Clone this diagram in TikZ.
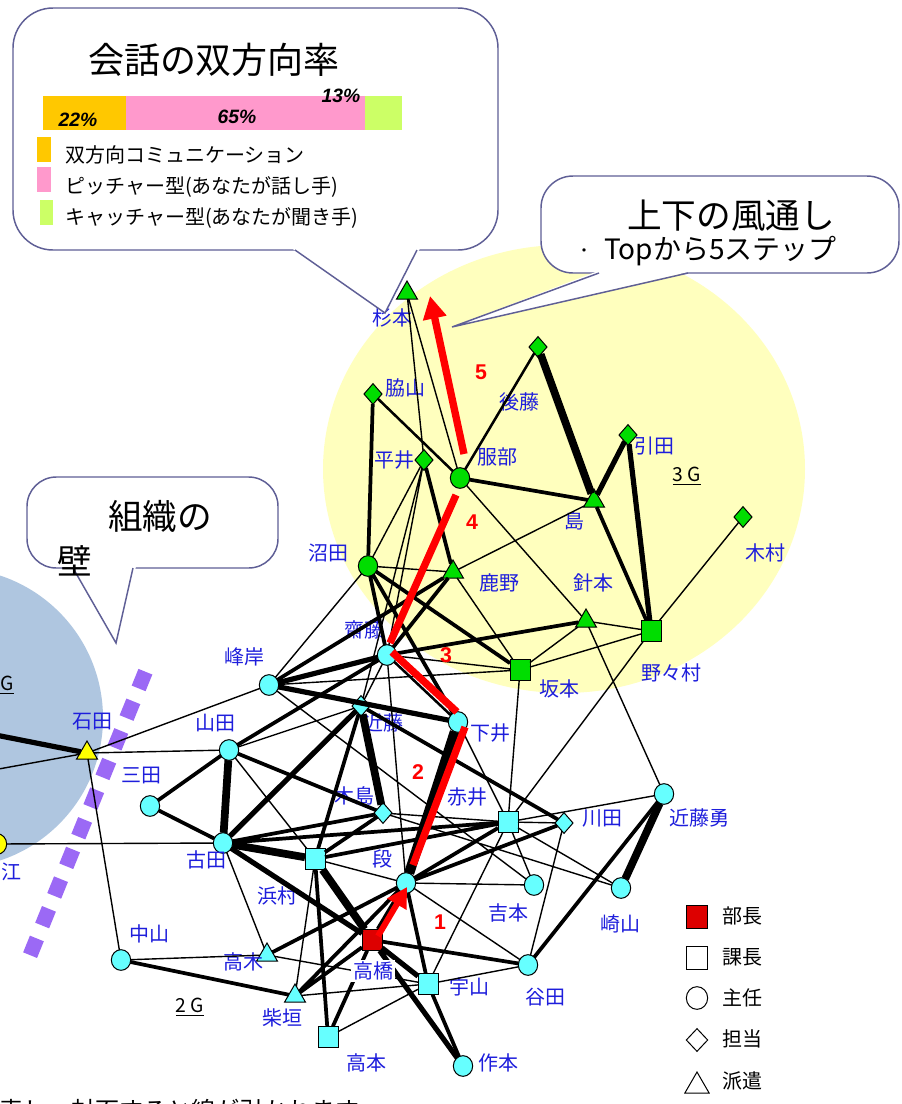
\documentclass[tikz,border=0pt]{standalone}
\usepackage{fontspec}
\setmainfont{Noto Sans CJK JP}
\newfontfamily\lib{Liberation Sans}
\usetikzlibrary{shapes.geometric,arrows.meta}
\definecolor{cyn}{RGB}{102,255,255}
\definecolor{grn}{RGB}{0,221,0}
\definecolor{ylw}{RGB}{255,255,0}
\definecolor{redn}{RGB}{221,0,0}
\definecolor{lbl}{RGB}{30,30,220}
\definecolor{ell}{RGB}{255,255,190}
\definecolor{bluec}{RGB}{175,198,224}
\definecolor{cline}{RGB}{95,95,150}
\definecolor{purp}{RGB}{155,105,245}
\definecolor{orng}{RGB}{255,200,0}
\definecolor{pnk}{RGB}{255,153,204}
\definecolor{lgrn}{RGB}{204,255,102}
\tikzset{
 nd/.style={draw=black,line width=0.75pt,inner sep=0pt,outer sep=0pt},
 cir/.style={nd,ellipse,minimum width=14.5pt,minimum height=15.5pt},
 sqr/.style={nd,rectangle,minimum width=15pt,minimum height=16pt},
 dia/.style={nd,diamond,minimum width=13.5pt,minimum height=15.5pt},
 tri/.style={nd,regular polygon,regular polygon sides=3,minimum size=18pt},
 lb/.style={text=lbl,font=\fontsize{15}{16}\selectfont,inner sep=0pt},
 e1/.style={line width=1.05pt},
 e2/.style={line width=1.9pt},
 e3/.style={line width=2.8pt},
 e4/.style={line width=3.9pt},
 e5/.style={line width=5.8pt},
 e6/.style={line width=7.6pt},
 rd/.style={red,line width=5.5pt},
 num/.style={text=red,font=\lib\bfseries\fontsize{16}{17}\selectfont,inner sep=0pt},
 cbox/.style={draw=cline,line width=1.1pt,fill=white},
 cedge/.style={draw=cline,line width=1.1pt},
 pct/.style={font=\lib\bfseries\itshape\fontsize{14.5}{15}\selectfont,inner sep=0pt},
 legt/.style={anchor=west,font=\fontsize{15}{16}\selectfont,inner sep=0pt},
 glab/.style={font=\fontsize{14.5}{15}\selectfont,inner sep=0pt},
}
\begin{document}
\begin{tikzpicture}[x=0.75pt,y=-0.75pt]
\clip (0,0) rectangle (901,1104);
\fill[white] (0,0) rectangle (901,1104);
% backgrounds
\fill[bluec] (-47,718) ellipse [x radius=150, y radius=150];
\fill[ell] (564,469) ellipse [x radius=241, y radius=224];
\draw[purp,line width=11.25pt,dash pattern=on 13.5pt off 10.5pt] (145.4,671.7) -- (30,955.4);

% nodes
\node[tri,fill=grn] (sugi) at (407,293) {};
\node[dia,fill=grn] (waki) at (373,394) {};
\node[dia,fill=grn] (goto) at (538,347) {};
\node[dia,fill=grn] (hirai) at (424,460) {};
\node[cir,fill=grn] (hatt) at (460,478) {};
\node[dia,fill=grn] (hiki) at (628,435) {};
\node[tri,fill=grn] (shima) at (594,501) {};
\node[dia,fill=grn] (kimu) at (743,517) {};
\node[cir,fill=grn] (numa) at (368,566) {};
\node[tri,fill=grn] (kano) at (453,572) {};
\node[tri,fill=grn] (hari) at (586,621) {};
\node[sqr,fill=grn] (nono) at (651,631) {};
\node[sqr,fill=grn] (saka) at (520,670) {};
\node[cir,fill=cyn] (sai) at (387,655) {};
\node[cir,fill=cyn] (mine) at (269,685) {};
\node[dia,fill=cyn] (kon) at (361,706) {};
\node[cir,fill=cyn] (shim) at (458,722) {};
\node[cir,fill=cyn] (yama) at (229,750) {};
\node[cir,fill=cyn] (mita) at (150,806) {};
\node[dia,fill=cyn] (kij) at (383,813) {};
\node[sqr,fill=cyn] (aka) at (508,822) {};
\node[dia,fill=cyn] (kawa) at (564,823) {};
\node[cir,fill=cyn] (isa) at (664,794) {};
\node[cir,fill=cyn] (furu) at (223,843) {};
\node[sqr,fill=cyn] (hama) at (315,859) {};
\node[cir,fill=cyn] (dan) at (406,883) {};
\node[cir,fill=cyn] (yosh) at (534,885) {};
\node[cir,fill=cyn] (saki) at (621,888) {};
\node[cir,fill=cyn] (naka) at (121,960) {};
\node[tri,fill=cyn] (takagi) at (267,955) {};
\node[sqr,fill=redn] (takah) at (372,940) {};
\node[cir,fill=cyn] (tani) at (528,965) {};
\node[tri,fill=cyn] (shib) at (295,996) {};
\node[sqr,fill=cyn] (uya) at (428,984) {};
\node[sqr,fill=cyn] (takam) at (328,1037) {};
\node[cir,fill=cyn] (saku) at (463,1066) {};
\node[tri,fill=ylw] (ishi) at (87,753) {};
\node[cir,fill=ylw] (ye) at (-3,844) {};
\coordinate (offa) at (-40,728);
\coordinate (offb) at (-40,776);

% labels
\node[lb] (l-sugi) at (392,318) {杉本};
\node[lb] (l-waki) at (405,388) {脇山};
\node[lb] (l-goto) at (519,402) {後藤};
\node[lb] (l-hirai) at (394,460) {平井};
\node[lb] (l-hatt) at (497,457) {服部};
\node[lb] (l-hiki) at (654,446) {引田};
\node[lb] (l-shima) at (574,521) {島};
\node[lb] (l-kimu) at (765,553) {木村};
\node[lb] (l-numa) at (328,553) {沼田};
\node[lb] (l-kano) at (499,583) {鹿野};
\node[lb] (l-hari) at (593,583) {針本};
\node[lb] (l-nono) at (671,673) {野々村};
\node[lb] (l-saka) at (559,689) {坂本};
\node[lb] (l-sai) at (364,630) {齋藤};
\node[lb] (l-mine) at (244,657) {峰岸};
\node[lb] (l-kon) at (383,723) {近藤};
\node[lb] (l-shim) at (490,733) {下井};
\node[lb] (l-yama) at (215,723) {山田};
\node[lb] (l-mita) at (141,775) {三田};
\node[lb] (l-kij) at (354,796) {木島};
\node[lb] (l-aka) at (467,797) {赤井};
\node[lb] (l-kawa) at (602,818) {川田};
\node[lb] (l-isa) at (699,818) {近藤勇};
\node[lb] (l-furu) at (206,860) {古田};
\node[lb] (l-hama) at (277,896) {浜村};
\node[lb] (l-dan) at (382,859) {段};
\node[lb] (l-yosh) at (508,913) {吉本};
\node[lb] (l-saki) at (620,924) {崎山};
\node[lb] (l-naka) at (149,934) {中山};
\node[lb] (l-takagi) at (243,962) {高木};
\node[lb] (l-tani) at (545,997) {谷田};
\node[lb] (l-shib) at (282,1018) {柴垣};
\node[lb] (l-uya) at (469,987) {宇山};
\node[lb] (l-takam) at (366,1063) {高本};
\node[lb] (l-saku) at (498,1063) {作本};
\node[lb] (l-ishi) at (92,722) {石田};
\node[lb,anchor=east] (l-ye) at (22,872) {江};
\node[glab] (g3) at (687,476) {\underline{3 G}};
\node[glab] (g2) at (190,1007) {\underline{2 G}};
\node[glab,anchor=east] (g1) at (14,685) {\underline{G}};

% edges
\draw[e1] (sugi)--(hirai) (sugi)--(hatt) (hatt)--(hari) (shima)--(kano)
 (hirai)--(numa) (hirai)--(sai) (hirai)--(kon) (numa)--(kano) (numa)--(mine)
 (kano)--(saka) (sai)--(saka) (hari)--(saka) (hari)--(nono) (saka)--(nono)
 (nono)--(kimu) (nono)--(aka) (hari)--(isa) (saka)--(aka) (mine)--(ishi)
 (mine)--(saka) (mine)--(yosh) (yama)--(ishi) (yama)--(kon) (yama)--(hama)
 (sai)--(kon) (sai)--(dan) (kij)--(aka) (kij)--(saki) (aka)--(shim) (aka)--(kawa)
 (aka)--(yosh) (aka)--(saki) (aka)--(uya) (aka)--(isa) (kawa)--(tani)
 (dan)--(yosh) (dan)--(tani) (dan)--(hama) (furu)--(ye) (furu)--(takagi)
 (naka)--(takagi) (naka)--(ishi) (takagi)--(uya) (shib)--(uya) (shib)--(hama)
 (uya)--(tani) (uya)--(takam) (ishi)--(offb);
\draw[e2] (waki)--(hatt) (goto)--(hatt) (sai)--(shim);
\draw[e3] (waki)--(numa) (hatt)--(shima) (hirai)--(kano) (numa)--(sai) (numa)--(saka)
 (numa)--(shim) (kano)--(sai) (shima)--(nono) (mine)--(kano) (sai)--(hari)
 (yama)--(sai) (yama)--(mita) (mita)--(furu) (yama)--(kij) (furu)--(kij)
 (furu)--(aka) (kon)--(hama) (kon)--(kawa) (kij)--(hama) (hama)--(aka)
 (hama)--(takam) (dan)--(aka) (dan)--(kawa) (dan)--(uya) (takagi)--(dan)
 (shib)--(takah) (shib)--(naka) (shib)--(dan) (takah)--(takam) (uya)--(saku)
 (isa)--(tani) (takah)--(tani);
\draw[e4] (hiki)--(shima) (hiki)--(nono) (mine)--(sai) (mine)--(shim) (furu)--(takah)
 (takah)--(uya) (takah)--(saku) (furu)--(kon) (dan)--(takah) (ishi)--(offa);
\draw[e5] (goto)--(shima) (yama)--(furu) (kon)--(kij) (furu)--(hama) (hama)--(takah) (isa)--(saki);
\draw[e6] (shim)--(dan);

\node[lb,fill=white,inner sep=1.5pt] (l-takah) at (373,971) {高橋};

% red path
\coordinate (r1s) at (378,936); \coordinate (r1e) at (407,887);
\coordinate (r2s) at (413,865); \coordinate (r2e) at (465,727);
\coordinate (r3s) at (457,712); \coordinate (r3e) at (392,652);
\coordinate (r4s) at (390,643); \coordinate (r4e) at (456,495);
\coordinate (r5s) at (464,454); \coordinate (r5e) at (430,296);
\draw[rd,line width=4.5pt,-{Triangle[length=15pt,width=16pt]}] (r1s) -- (r1e);
\draw[rd] (r2s) -- (r2e);
\draw[rd] (r3s) -- (r3e);
\draw[rd] (r4s) -- (r4e);
\draw[rd,-{Triangle[length=17pt,width=17pt]}] (r5s) -- (r5e);
\node[num] (n1) at (440,922) {1};
\node[num] (n2) at (418,772) {2};
\node[num] (n3) at (446,655) {3};
\node[num] (n4) at (472,522) {4};
\node[num] (n5) at (481,372) {5};

% legend
\node[sqr,fill=redn,minimum width=16pt,minimum height=17pt] (lg1) at (697,917) {};
\node[sqr,fill=white,minimum width=16pt,minimum height=17pt] (lg2) at (697,958) {};
\node[cir,fill=white,minimum width=16pt,minimum height=17pt] (lg3) at (697,998) {};
\node[dia,fill=white,minimum width=16pt,minimum height=17pt] (lg4) at (697,1040) {};
\node[tri,fill=white,minimum size=21pt] (lg5) at (697,1086) {};
\node[legt] (lt1) at (722,916) {部長};
\node[legt] (lt2) at (722,957) {課長};
\node[legt] (lt3) at (722,998) {主任};
\node[legt] (lt4) at (722,1039) {担当};
\node[legt] (lt5) at (722,1081) {派遣};

% callout 1
\filldraw[cbox,rounded corners=30pt] (13,8) rectangle (498,250);
\fill[white] (292,248.4) -- (385,313) -- (420,248.4) -- cycle;
\coordinate (c1a) at (295,250); \coordinate (c1t) at (385,313); \coordinate (c1b) at (417,250);
\draw[cedge] (c1a) -- (c1t) -- (c1b);
\node[font=\fontsize{27}{30}\selectfont,inner sep=0pt] (ttl) at (214,60) {会話の双方向率};
\fill[orng] (43,96) rectangle (126,130);
\fill[pnk] (126,96) rectangle (365,130);
\fill[lgrn] (365,96) rectangle (402,130);
\node[pct] (p22) at (78,120) {22\%};
\node[pct] (p65) at (237,117) {65\%};
\node[pct] (p13) at (341,96) {13\%};
\fill[orng] (37,137) rectangle (51,162);
\fill[pnk] (37,167) rectangle (51,192);
\fill[lgrn] (40,200) rectangle (53,225);
\node[legt] (lg-a) at (65,155) {双方向コミュニケーション};
\node[legt] (lg-b) at (65,187) {ピッチャー型(あなたが話し手)};
\node[legt] (lg-c) at (65,218) {キャッチャー型(あなたが聞き手)};

% callout 2
\filldraw[cbox,rounded corners=24pt] (541,176) rectangle (899,273);
\fill[white] (597,271.4) -- (452,327) -- (691,271.4) -- cycle;
\coordinate (c2a) at (599,273); \coordinate (c2t) at (452,327); \coordinate (c2b) at (688,273);
\draw[cedge] (c2a) -- (c2t) -- (c2b);
\node[font=\fontsize{26}{28}\selectfont,inner sep=0pt] (ttl2) at (731,216) {上下の風通し};
\node[font=\fontsize{12}{13}\selectfont,inner sep=0pt] (dot2) at (584,253) {・};
\node[anchor=west,font=\fontsize{21}{23}\selectfont,inner sep=0pt] (sub2) at (604,251) {Topから5ステップ};

% callout 3
\filldraw[cbox,rounded corners=22pt] (27,477) rectangle (278,568);
\fill[white] (70,566.4) -- (116,643) -- (136,566.4) -- cycle;
\coordinate (c3a) at (73,568); \coordinate (c3t) at (116,643); \coordinate (c3b) at (133,568);
\draw[cedge] (c3a) -- (c3t) -- (c3b);
\node[font=\fontsize{26}{28}\selectfont,inner sep=0pt] (ttl3) at (160,516) {組織の};
\node[font=\fontsize{26}{28}\selectfont,inner sep=0pt] (ttl3b) at (75,561) {壁};

% footer text, cut by the lower edge as in the reference
\node[anchor=west,font=\fontsize{18}{20}\selectfont,inner sep=0pt] (foot) at (-1,1110) {表し、対面すると線が引かれます};
\end{tikzpicture}
\end{document}
